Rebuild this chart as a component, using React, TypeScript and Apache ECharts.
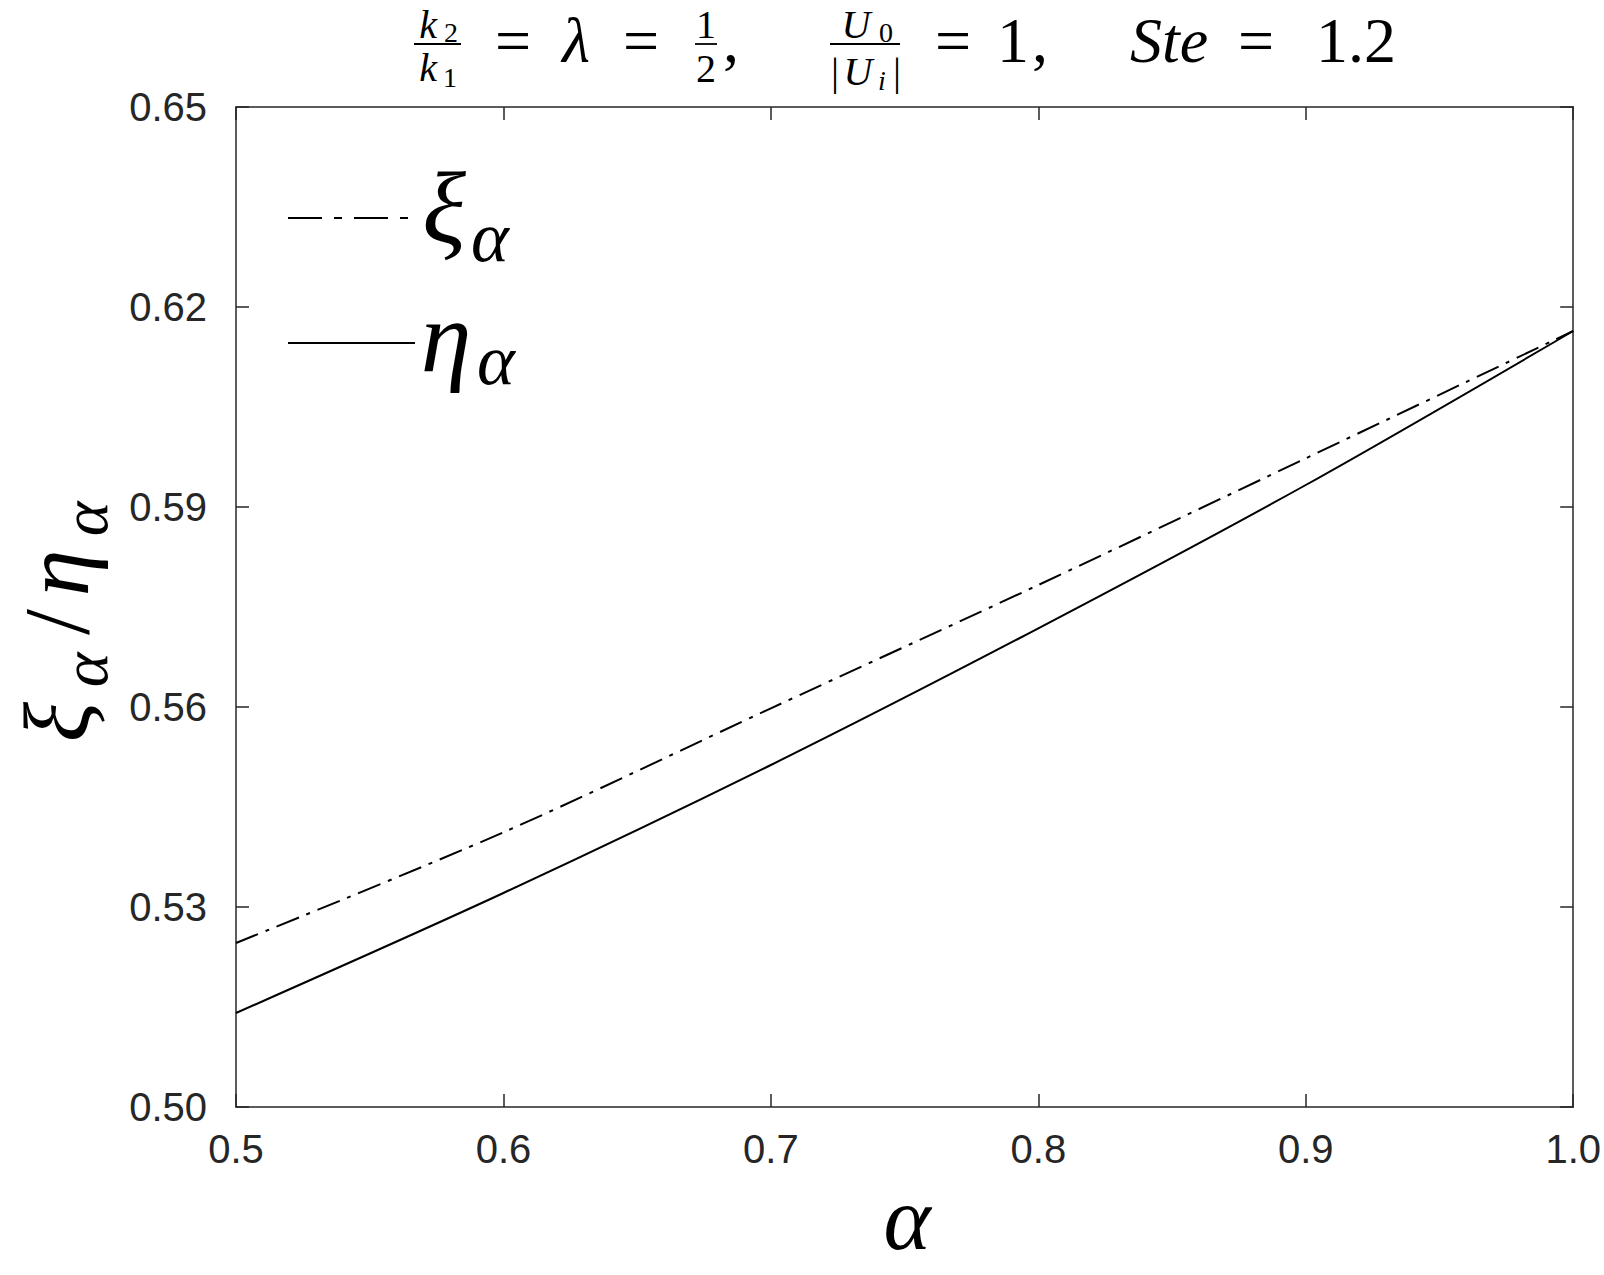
import React, { useEffect, useRef } from "react";
import * as echarts from "echarts";

// ---- data ----
const alphaValues = [0.5, 0.6, 0.7, 0.8, 0.9, 1.0];
const xiValues = [0.5246, 0.5412, 0.5598, 0.5783, 0.5973, 0.6164];
const etaValues = [0.5141, 0.5321, 0.5513, 0.5718, 0.5933, 0.6164];
const xTicks = [0.5, 0.6, 0.7, 0.8, 0.9, 1.0];
const yTicks = [0.5, 0.53, 0.56, 0.59, 0.62, 0.65];

const INK = "#262626";
const SERIF = "'Liberation Serif', 'DejaVu Serif', serif";
const SANS = "'Liberation Sans', Arial, sans-serif";

function txt(text: string, x: number, y: number, size: number, italic = false, align = "center", lh?: number) {
  return {
    type: "text",
    x,
    y,
    silent: true,
    style: {
      text,
      fontSize: size,
      fontFamily: SERIF,
      fontStyle: italic ? "italic" : "normal",
      fill: "#000",
      align,
      verticalAlign: "middle",
      lineHeight: lh ?? size,
    },
  };
}

function bar(x1: number, x2: number, y: number) {
  return {
    type: "line",
    silent: true,
    shape: { x1, y1: y, x2, y2: y },
    style: { stroke: "#000", lineWidth: 1.8 },
  };
}

export default function App() {
  const ref = useRef<HTMLDivElement>(null);

  useEffect(() => {
    if (!ref.current) return;
    const chart = echarts.init(ref.current, null, { renderer: "svg" });

    const xiData = alphaValues.map((a, i) => [a, xiValues[i]]);
    const etaData = alphaValues.map((a, i) => [a, etaValues[i]]);

    const axisLine = { show: true, lineStyle: { color: INK, width: 1.5 } };
    const axisTick = { show: true, inside: true, length: 13, lineStyle: { color: INK, width: 1.5 } };

    const graphic: any[] = [
      // title: k2/k1 = λ = 1/2,  U0/|Ui| = 1,  Ste = 1.2
      txt("k", 428, 24, 40, true),
      txt("2", 451, 32, 28),
      bar(414, 461, 44),
      txt("k", 428, 67, 40, true),
      txt("1", 450, 77, 28),
      txt("=", 513, 40, 64),
      txt("λ", 576, 40, 64, true),
      txt("=", 641, 40, 64),
      txt("1", 706, 24, 40),
      bar(695, 717, 44),
      txt("2", 706, 68, 40),
      txt(",", 731, 40, 64),
      txt("U", 856, 24, 40, true),
      txt("0", 886, 32, 28),
      bar(830, 900, 44),
      txt("|", 835, 71, 40),
      txt("U", 858, 71, 40, true),
      txt("i", 882, 80, 28, true),
      txt("|", 897, 71, 40),
      txt("=", 953, 40, 64),
      txt("1", 1013, 40, 64),
      txt(",", 1040, 40, 64),
      txt("Ste", 1130, 40, 64, true, "left"),
      txt("=", 1256, 40, 64),
      txt("1.2", 1356, 40, 64),
      // legend
      {
        type: "line",
        silent: true,
        shape: { x1: 288, y1: 218, x2: 413, y2: 218 },
        style: { stroke: "#000", lineWidth: 2, lineDash: [34, 12, 8, 12] },
      },
      txt("ξ", 444, 207, 102, true),
      txt("α", 490, 237, 72, true),
      {
        type: "line",
        silent: true,
        shape: { x1: 288, y1: 343, x2: 415, y2: 343 },
        style: { stroke: "#000", lineWidth: 2 },
      },
      txt("η", 446, 336, 102, true),
      txt("α", 496, 360, 72, true),
      // x-axis name
      txt("α", 907, 1218, 90, true, "center", 72),
      // y-axis name (rotated)
      {
        type: "group",
        x: 88,
        y: 748,
        rotation: Math.PI / 2,
        silent: true,
        children: [
          txt("ξ", 26, -32, 94, true, "center", 76),
          txt("α", 78, -4, 66, true, "center", 54),
          txt("/", 126, -32, 94, false, "center", 76),
          txt("η", 175, -32, 94, true, "center", 76),
          txt("α", 229, -4, 66, true, "center", 54),
        ],
      },
    ];

    chart.setOption({
      animation: false,
      backgroundColor: "#ffffff",
      grid: { left: 236, top: 107, width: 1338, height: 1000, containLabel: false },
      xAxis: [
        {
          type: "value",
          position: "bottom",
          min: 0.5,
          max: 1.0,
          interval: 0.1,
          axisLine,
          axisTick,
          splitLine: { show: false },
          axisLabel: {
            show: true,
            color: INK,
            fontSize: 40,
            fontFamily: SANS,
            margin: 22,
            customValues: xTicks,
            formatter: (v: number) => v.toFixed(1),
          },
        },
        {
          type: "value",
          position: "top",
          min: 0.5,
          max: 1.0,
          interval: 0.1,
          axisLine,
          axisTick,
          splitLine: { show: false },
          axisLabel: { show: false },
        },
      ],
      yAxis: [
        {
          type: "value",
          position: "left",
          min: 0.5,
          max: 0.65,
          axisLine,
          axisTick: { ...axisTick, customValues: yTicks },
          splitLine: { show: false },
          axisLabel: {
            show: true,
            color: INK,
            fontSize: 40,
            fontFamily: SANS,
            margin: 29,
            customValues: yTicks,
            formatter: (v: number) => v.toFixed(2),
          },
        },
        {
          type: "value",
          position: "right",
          min: 0.5,
          max: 0.65,
          axisLine,
          axisTick: { ...axisTick, customValues: yTicks },
          splitLine: { show: false },
          axisLabel: { show: false },
        },
      ],
      series: [
        {
          name: "ξα",
          type: "line",
          xAxisIndex: 0,
          yAxisIndex: 0,
          data: xiData,
          smooth: 0.3,
          showSymbol: false,
          lineStyle: { color: "#000", width: 2, type: [24, 8, 4, 8] },
        },
        {
          name: "ηα",
          type: "line",
          xAxisIndex: 0,
          yAxisIndex: 0,
          data: etaData,
          smooth: 0.3,
          showSymbol: false,
          lineStyle: { color: "#000", width: 2, type: "solid" },
        },
      ],
      graphic,
    });

    return () => chart.dispose();
  }, []);

  return (
    <div
      ref={ref}
      style={{ position: "absolute", left: 0, top: 0, width: 1604, height: 1275, background: "#fff" }}
    />
  );
}
